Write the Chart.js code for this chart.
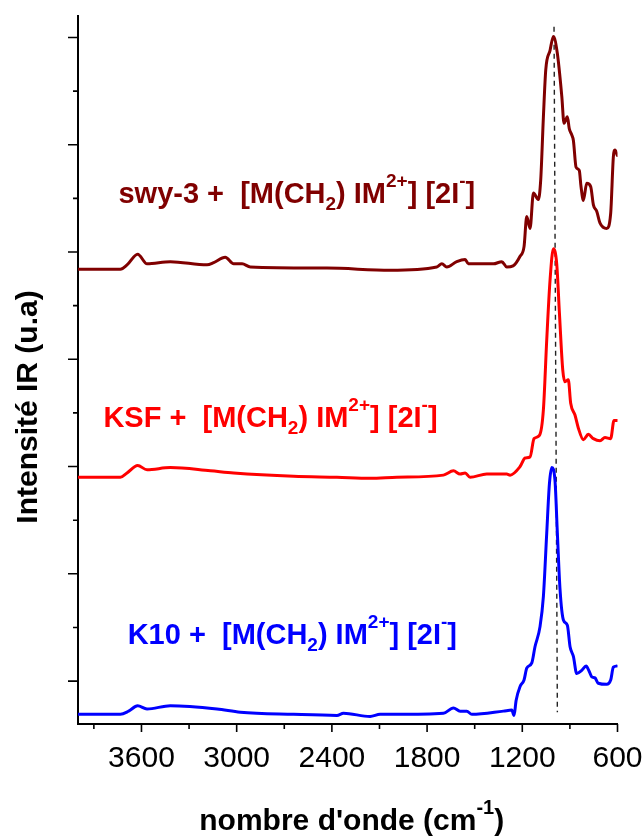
<!DOCTYPE html>
<html>
<head>
<meta charset="utf-8">
<script src="https://cdn.jsdelivr.net/npm/chart.js@4.4.1/dist/chart.umd.min.js"></script>
<style>
  html, body { margin: 0; padding: 0; background: #ffffff; }
  canvas { display: block; }
</style>
</head>
<body>
<canvas id="c" width="644" height="836"></canvas>
<script>
// ---- data (wavenumber in cm-1, intensity in arbitrary units, offset spectra) ----
const swyWn = [4000,3733,3691,3624,3565,3418,3187,3145,3072,3019,2966,2914,2431,2033,1739,1707,1676,1613,1560,1540,1466,1382,1329,1298,1258,1214,1189,1172,1151,1130,1099,1084,1067,1052,1025,1004,979,951,937,916,904,888,878,861,841,830,815,794,769,752,731,710,668,643,626,616,601];
const swyI  = [4.24,4.24,4.28,4.38,4.29,4.31,4.28,4.30,4.35,4.29,4.29,4.26,4.25,4.23,4.26,4.29,4.26,4.31,4.33,4.29,4.29,4.29,4.31,4.26,4.27,4.36,4.45,4.73,4.62,4.95,4.89,5.07,5.66,6.10,6.28,6.41,6.25,5.85,5.60,5.66,5.55,5.49,5.44,5.19,5.16,5.01,4.88,5.04,5.01,4.84,4.78,4.67,4.62,4.76,5.29,5.35,5.30];

const ksfWn = [4000,3733,3691,3624,3565,3418,3166,3019,2641,2368,2159,1990,1697,1634,1592,1560,1529,1424,1298,1277,1214,1182,1151,1126,1092,1067,1046,1025,1004,983,966,945,931,910,895,868,847,815,784,752,710,679,643,622,601];
const ksfI  = [2.30,2.30,2.34,2.41,2.37,2.39,2.36,2.34,2.31,2.30,2.29,2.30,2.32,2.36,2.33,2.34,2.30,2.33,2.33,2.32,2.40,2.48,2.49,2.66,2.69,2.93,3.58,4.14,4.43,4.29,3.83,3.30,3.19,3.21,2.99,2.88,2.76,2.65,2.70,2.66,2.64,2.67,2.66,2.83,2.83];

const k10Wn = [4000,3733,3681,3624,3565,3418,3124,2977,2641,2368,2327,2159,2096,1990,1697,1634,1592,1550,1518,1319,1266,1252,1239,1214,1189,1172,1140,1120,1088,1067,1046,1029,1014,994,979,962,941,916,899,878,857,825,798,778,762,742,721,668,643,626,605];
const k10I  = [0.09,0.09,0.12,0.17,0.14,0.17,0.14,0.11,0.09,0.08,0.10,0.07,0.09,0.09,0.10,0.15,0.12,0.12,0.09,0.12,0.13,0.08,0.22,0.35,0.41,0.52,0.57,0.72,0.91,1.19,1.78,2.24,2.39,2.27,1.78,1.25,0.97,0.92,0.72,0.63,0.47,0.50,0.54,0.49,0.44,0.43,0.38,0.37,0.41,0.53,0.54];

// vertical dashed reference line
const refWn = [1000, 979];
const refI  = [6.50, 0.11];

// tick values
const xMajor = [3600, 3000, 2400, 1800, 1200, 600];
const xMinor = [3900, 3300, 2700, 2100, 1500, 900];
const yMajor = [0.4, 1.4, 2.4, 3.4, 4.4, 5.4, 6.4];
const yMinor = [0.9, 1.9, 2.9, 3.9, 4.9, 5.9];

// annotation labels
const seriesNames = ['swy-3', 'KSF', 'K10'];
const seriesColors = ['#800000', '#ff0000', '#0000ff'];
const labelWn = [3745, 3840, 3687];
const labelI  = [4.86, 2.77, 0.75];

const FONT = "'Liberation Sans', Arial, Helvetica, sans-serif";

function pts(xs, ys) { return xs.map((v, i) => ({ x: v, y: ys[i] })); }

function drawRich(ctx, segs, x, y, size, subSize, color, align) {
  ctx.fillStyle = color;
  ctx.textBaseline = 'alphabetic';
  ctx.textAlign = 'left';
  const widths = segs.map(s => {
    ctx.font = 'bold ' + (s.k === 'n' ? size : subSize) + 'px ' + FONT;
    return ctx.measureText(s.t).width;
  });
  const total = widths.reduce((a, b) => a + b, 0);
  let cx = align === 'center' ? x - total / 2 : x;
  segs.forEach((s, i) => {
    ctx.font = 'bold ' + (s.k === 'n' ? size : subSize) + 'px ' + FONT;
    let dy = 0;
    if (s.k === 'sup') dy = -size * 0.55;
    if (s.k === 'sub') dy = size * 0.24;
    ctx.fillText(s.t, cx, y + dy);
    cx += widths[i];
  });
}

const decor = {
  id: 'decor',
  afterDraw(chart) {
    const { ctx, chartArea: a, scales: { x, y } } = chart;
    ctx.save();
    // tick marks
    ctx.strokeStyle = '#000';
    ctx.lineWidth = 1.6;
    ctx.beginPath();
    yMajor.forEach(v => { const p = y.getPixelForValue(v); ctx.moveTo(a.left - 10, p); ctx.lineTo(a.left, p); });
    yMinor.forEach(v => { const p = y.getPixelForValue(v); ctx.moveTo(a.left - 5, p); ctx.lineTo(a.left, p); });
    xMajor.forEach(v => { const p = x.getPixelForValue(v); ctx.moveTo(p, a.bottom); ctx.lineTo(p, a.bottom + 8); });
    xMinor.forEach(v => { const p = x.getPixelForValue(v); ctx.moveTo(p, a.bottom); ctx.lineTo(p, a.bottom + 5); });
    ctx.stroke();

    // x tick labels
    ctx.fillStyle = '#000';
    ctx.font = '30px ' + FONT;
    ctx.textAlign = 'center';
    ctx.textBaseline = 'alphabetic';
    xMajor.forEach(v => { ctx.fillText(String(v), x.getPixelForValue(v), a.bottom + 43); });

    // series annotations
    seriesNames.forEach((n, i) => {
      const px = x.getPixelForValue(labelWn[i]);
      const py = y.getPixelForValue(labelI[i]);
      drawRich(ctx, [
        { t: n + ' +  [M(CH', k: 'n' },
        { t: '2', k: 'sub' },
        { t: ') IM', k: 'n' },
        { t: '2+', k: 'sup' },
        { t: '] [2I', k: 'n' },
        { t: '-', k: 'sup' },
        { t: ']', k: 'n' }
      ], px, py, 29, 19, seriesColors[i], 'left');
    });

    // x axis title
    drawRich(ctx, [
      { t: "nombre d'onde (cm", k: 'n' },
      { t: '-1', k: 'sup' },
      { t: ')', k: 'n' }
    ], (a.left + a.right) / 2 + 4, 830, 30, 20, '#000', 'center');

    // y axis title
    ctx.translate(37, 407);
    ctx.rotate(-Math.PI / 2);
    ctx.font = 'bold 30px ' + FONT;
    ctx.fillStyle = '#000';
    ctx.textAlign = 'center';
    ctx.textBaseline = 'alphabetic';
    ctx.fillText('Intensité IR (u.a)', 0, 0);
    ctx.restore();
  }
};

const lineDs = (label, xs, ys, color) => ({
  label, data: pts(xs, ys), borderColor: color, backgroundColor: color,
  borderWidth: 3, pointRadius: 0, showLine: true, fill: false,
  cubicInterpolationMode: 'monotone', borderJoinStyle: 'round', borderCapStyle: 'round'
});

new Chart(document.getElementById('c'), {
  type: 'scatter',
  data: {
    datasets: [
      lineDs('swy-3', swyWn, swyI, seriesColors[0]),
      lineDs('KSF', ksfWn, ksfI, seriesColors[1]),
      lineDs('K10', k10Wn, k10I, seriesColors[2]),
      {
        label: 'ref', data: pts(refWn, refI), borderColor: '#222', borderWidth: 1.4,
        borderDash: [5, 4], pointRadius: 0, showLine: true, fill: false, tension: 0
      }
    ]
  },
  options: {
    responsive: false,
    devicePixelRatio: 1,
    animation: false,
    events: [],
    layout: { padding: { left: 0, right: 26.5, top: 16, bottom: 0 } },
    plugins: { legend: { display: false }, tooltip: { enabled: false } },
    scales: {
      x: {
        type: 'linear', reverse: true, min: 600, max: 4000,
        afterBuildTicks: s => { s.ticks = xMajor.map(v => ({ value: v })); },
        afterFit: s => { s.height = 112; },
        grid: { display: false, drawTicks: false },
        border: { display: true, color: '#000', width: 2 },
        ticks: { display: false }
      },
      y: {
        type: 'linear', min: 0, max: 6.6,
        afterFit: s => { s.width = 78; },
        grid: { display: false, drawTicks: false },
        border: { display: true, color: '#000', width: 2 },
        ticks: { display: false }
      }
    }
  },
  plugins: [decor]
});
</script>
</body>
</html>
